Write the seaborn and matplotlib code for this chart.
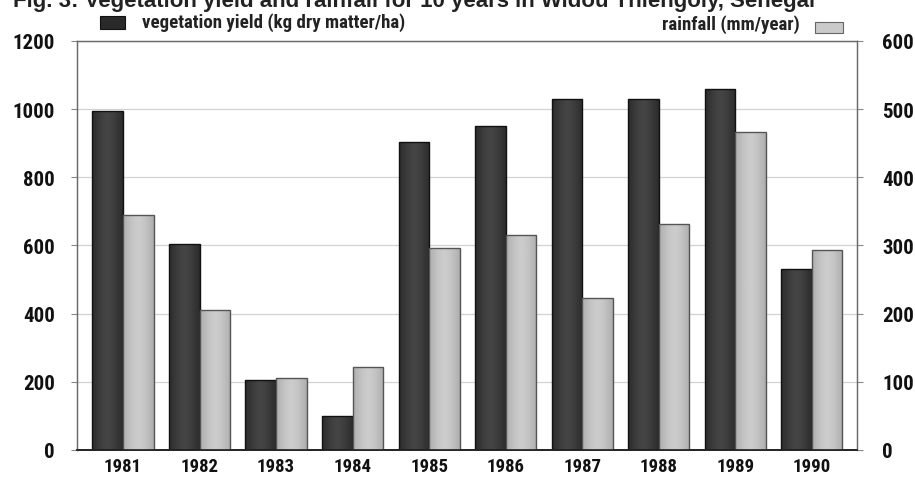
import numpy as np
import pandas as pd
import matplotlib
matplotlib.use("Agg")
import matplotlib.pyplot as plt
from matplotlib import font_manager
from matplotlib.patches import Rectangle
import seaborn as sns

# Annual values, Widou Thiengoly (Senegal)
years = ["1981", "1982", "1983", "1984", "1985", "1986", "1987", "1988", "1989", "1990"]
vegetation_yield = [995, 605, 205, 100, 905, 950, 1030, 1030, 1060, 530]   # kg dry matter / ha
rainfall = [345, 205, 106, 122, 296, 316, 223, 332, 466, 294]              # mm / year
left_ticks = [0, 200, 400, 600, 800, 1000, 1200]
right_ticks = [0, 100, 200, 300, 400, 500, 600]

title = "Fig. 3: Vegetation yield and rainfall for 10 years in Widou Thiengoly, Senegal"
veg_label = "vegetation yield (kg dry matter/ha)"
rain_label = "rainfall (mm/year)"


def first_available(names):
    for name in names:
        try:
            font_manager.findfont(font_manager.FontProperties(family=name),
                                  fallback_to_default=False)
            return name
        except Exception:
            continue
    return "DejaVu Sans"


NARROW = first_available(["Liberation Sans Narrow", "Roboto Condensed", "Open Sans Condensed"])
HAS_NARROW = NARROW != "DejaVu Sans"
BODY = NARROW if HAS_NARROW else first_available(["Liberation Sans", "Roboto"])
# sizes (pt) tuned for the chosen face
tick_size = 15 if HAS_NARROW else 13
year_size = 13.5 if HAS_NARROW else 10.5
legend_size = 13.6 if HAS_NARROW else 11

sns.set_theme(style="white")
plt.rcParams["font.family"] = [BODY, "DejaVu Sans"]

DARK = "#353535"
LIGHT = "#bdbdbd"

fig = plt.figure(figsize=(9.15, 4.81), dpi=100)
ax = fig.add_axes([0.0842, 0.0624, 0.8524, 0.8503])
ax2 = ax.twinx()

order = ["veg", "rain"]
veg_df = pd.DataFrame({"year": years, "series": "veg", "value": vegetation_yield})
rain_df = pd.DataFrame({"year": years, "series": "rain", "value": rainfall})

# Each series on its own value axis; hue_order + dodge keeps them side by side
sns.barplot(data=veg_df, x="year", y="value", hue="series", hue_order=order,
            order=years, palette={"veg": DARK, "rain": LIGHT}, width=0.8, dodge=True,
            edgecolor="#111111", linewidth=1.0, legend=False, ax=ax)
sns.barplot(data=rain_df, x="year", y="value", hue="series", hue_order=order,
            order=years, palette={"veg": DARK, "rain": LIGHT}, width=0.8, dodge=True,
            edgecolor="#555555", linewidth=1.0, legend=False, ax=ax2)


def shade_bars(axis, lo, hi):
    """Fill each bar with a soft horizontal gradient, lighter toward the middle."""
    xs = np.linspace(-1, 1, 64)
    profile = hi - (hi - lo) * np.abs(xs) ** 1.5
    for patch in list(axis.patches):
        x0, y0 = patch.get_x(), patch.get_y()
        w, h = patch.get_width(), patch.get_height()
        if h == 0 or np.isnan(h):
            continue
        img = axis.imshow(profile[np.newaxis, :], extent=(x0, x0 + w, y0, y0 + h),
                          aspect="auto", cmap="gray", vmin=0, vmax=1,
                          interpolation="bilinear", zorder=patch.get_zorder() - 0.01)
        img.set_clip_path(patch)
        patch.set_facecolor("none")


shade_bars(ax, 0.17, 0.27)
shade_bars(ax2, 0.68, 0.80)

ax.set_xlim(-0.60, 9.59)
ax.set_ylim(0, 1200)
ax2.set_ylim(0, 600)
ax.set_yticks(left_ticks)
ax2.set_yticks(right_ticks)
for a in (ax, ax2):
    a.set_xlabel("")
    a.set_ylabel("")

# Faint horizontal rules behind the bars
ax.set_axisbelow(True)
ax.yaxis.grid(True, color="#d2d2d2", linewidth=0.9)
ax.xaxis.grid(False)
ax2.grid(False)

for a in (ax, ax2):
    for side in ("left", "right", "top"):
        a.spines[side].set_color("#6a6a6a")
        a.spines[side].set_linewidth(0.9)
    a.spines["bottom"].set_color("#222222")
    a.spines["bottom"].set_linewidth(1.2)

ax.tick_params(axis="y", direction="out", length=4, width=0.8, color="#888888", pad=12)
ax2.tick_params(axis="y", direction="out", length=4, width=0.8, color="#888888", pad=14)
ax.tick_params(axis="x", length=0, pad=5)
for lab in ax.get_yticklabels() + ax2.get_yticklabels():
    lab.set_fontsize(tick_size)
    lab.set_fontweight("bold")
    lab.set_color("#111111")
for lab in ax.get_xticklabels():
    lab.set_fontsize(year_size)
    lab.set_fontweight("bold")
    lab.set_color("#111111")

# Header: title (runs off the top edge of the page) and the two legend keys
fig.text(815 / 915, 1 - 7 / 481, title, ha="right", va="baseline",
         fontsize=16, fontweight="bold", color="#222222",
         family=[first_available(["Liberation Sans", "Roboto"]), "DejaVu Sans"])

fig.add_artist(Rectangle((100 / 915, 1 - 30 / 481), 25 / 915, 13 / 481,
                         transform=fig.transFigure, facecolor="#2a2a2a",
                         edgecolor="#111111", linewidth=0.8))
fig.text(142 / 915, 1 - 23 / 481, veg_label, ha="left", va="center",
         fontsize=legend_size, fontweight="bold", color="#222222")

fig.add_artist(Rectangle((815 / 915, 1 - 34 / 481), 28 / 915, 11 / 481,
                         transform=fig.transFigure, facecolor="#cacaca",
                         edgecolor="#666666", linewidth=0.8))
fig.text(800 / 915, 1 - 25 / 481, rain_label, ha="right", va="center",
         fontsize=legend_size, fontweight="bold", color="#222222")

fig.savefig("out.png", dpi=100)
